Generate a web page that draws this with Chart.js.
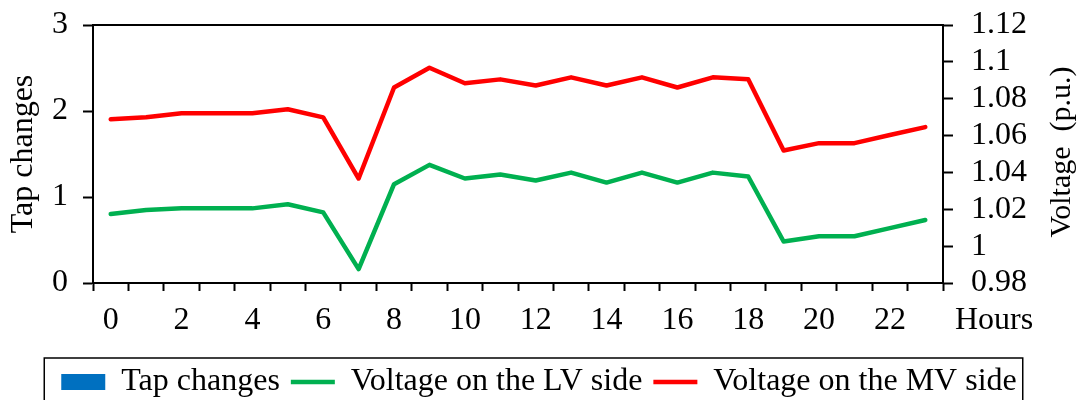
<!DOCTYPE html>
<html>
<head>
<meta charset="utf-8">
<script src="https://cdn.jsdelivr.net/npm/chart.js@4.4.1/dist/chart.umd.min.js"></script>
<style>
  html, body { margin: 0; padding: 0; background: #ffffff; }
  #wrap { width: 1078px; height: 400px; position: relative; }
</style>
</head>
<body>
<div id="wrap"><canvas id="c" width="1078" height="400"></canvas></div>
<script>
// ---- data ----
const hours = [0,1,2,3,4,5,6,7,8,9,10,11,12,13,14,15,16,17,18,19,20,21,22,23];
const tapChanges = [0,0,0,0,0,0,0,0,0,0,0,0,0,0,0,0,0,0,0,0,0,0,0,0];
const lvVoltage = [1.0174,1.0196,1.0205,1.0205,1.0205,1.0227,1.0183,0.9875,1.0336,1.0441,1.0367,1.0389,
                   1.0356,1.0399,1.0345,1.0399,1.0345,1.0399,1.0378,1.0025,1.0054,1.0054,1.0098,1.0142];
const mvVoltage = [1.0688,1.0699,1.0721,1.0721,1.0721,1.0743,1.0699,1.0367,1.0861,1.0968,1.0884,1.0905,
                   1.0872,1.0916,1.0872,1.0916,1.0861,1.0916,1.0905,1.0519,1.0559,1.0559,1.0603,1.0646];
const seriesNames = ['Tap changes', 'Voltage on the LV side', 'Voltage on the MV side'];
const leftTitle = 'Tap changes';
const rightTitle = 'Voltage  (p.u.)';
const xUnitLabel = 'Hours';

const FONT = "'Liberation Serif', 'Times New Roman', serif";
const FS = 32;
Chart.defaults.font.family = FONT;
Chart.defaults.font.size = FS;
Chart.defaults.color = '#000000';

const extras = {
  id: 'extras',
  afterDraw(chart) {
    const ctx = chart.ctx;
    const a = chart.chartArea;
    ctx.save();
    // top frame line
    ctx.strokeStyle = '#000';
    ctx.lineWidth = 2;
    ctx.beginPath();
    ctx.moveTo(a.left, a.top);
    ctx.lineTo(a.right, a.top);
    ctx.stroke();
    // "Hours" label at tick-label level
    ctx.fillStyle = '#000';
    ctx.font = FS + "px " + FONT;
    ctx.textAlign = 'center';
    ctx.textBaseline = 'middle';
    ctx.fillText(xUnitLabel, a.right + 51, a.bottom + 38);
    // right axis title (reads bottom to top)
    ctx.save();
    ctx.translate(a.right + 119, (a.top + a.bottom) / 2 - 2);
    ctx.rotate(-Math.PI / 2);
    ctx.font = "30px " + FONT;
    ctx.fillText(rightTitle, 0, 0);
    ctx.restore();
    // legend border
    const hb = chart.legend.legendHitBoxes;
    if (hb && hb.length) {
      const l = Math.min(...hb.map(h => h.left)) - 17;
      const r = Math.max(...hb.map(h => h.left + h.width)) + 6;
      const t = chart.legend.top + 3;
      ctx.lineWidth = 1.5;
      ctx.strokeStyle = '#000';
      ctx.strokeRect(l, t, r - l, 80);
    }
    ctx.restore();
  }
};

function noPad(s) { s.paddingTop = 0; s.paddingBottom = 0; }

new Chart(document.getElementById('c'), {
  type: 'bar',
  data: {
    labels: hours,
    datasets: [
      {
        type: 'bar',
        label: seriesNames[0],
        data: tapChanges,
        backgroundColor: '#0070C0',
        borderWidth: 0,
        yAxisID: 'y',
        pointStyle: 'rect'
      },
      {
        type: 'line',
        label: seriesNames[1],
        data: lvVoltage,
        borderColor: '#00B050',
        backgroundColor: '#00B050',
        borderWidth: 4.5,
        pointRadius: 0,
        pointStyle: 'line',
        tension: 0,
        borderCapStyle: 'round',
        borderJoinStyle: 'round',
        yAxisID: 'y1'
      },
      {
        type: 'line',
        label: seriesNames[2],
        data: mvVoltage,
        borderColor: '#FF0000',
        backgroundColor: '#FF0000',
        borderWidth: 4.5,
        pointRadius: 0,
        pointStyle: 'line',
        tension: 0,
        borderCapStyle: 'round',
        borderJoinStyle: 'round',
        yAxisID: 'y1'
      }
    ]
  },
  options: {
    responsive: false,
    animation: false,
    layout: { padding: { top: 25, left: 0, right: 0, bottom: -8 } },
    plugins: {
      tooltip: { enabled: false },
      legend: {
        position: 'bottom',
        align: 'center',
        labels: {
          usePointStyle: true,
          pointStyleWidth: 44,
          boxHeight: 16,
          padding: 11,
          color: '#000',
          font: { size: FS, family: FONT }
        }
      }
    },
    scales: {
      x: {
        offset: true,
        grid: { display: true, drawOnChartArea: false, drawTicks: true, tickLength: 8, tickWidth: 2, tickColor: '#000', offset: true },
        border: { display: true, color: '#000', width: 2 },
        ticks: {
          autoSkip: false,
          maxRotation: 0,
          minRotation: 0,
          padding: 10,
          color: '#000',
          font: { size: FS, family: FONT },
          callback: function(v, i) { return (hours[i] % 2 === 0) ? String(hours[i]) : ''; }
        },
        afterFit(s) { s.height = 72; }
      },
      y: {
        position: 'left',
        min: 0, max: 3,
        grid: { display: true, drawOnChartArea: false, drawTicks: true, tickLength: 10, tickWidth: 2, tickColor: '#000' },
        border: { display: true, color: '#000', width: 2 },
        ticks: { stepSize: 1, padding: 15, autoSkip: false, color: '#000', font: { size: FS, family: FONT } },
        title: { display: true, text: leftTitle, color: '#000', font: { size: FS, family: FONT }, padding: { top: 4, bottom: 0 } },
        afterFit(s) { s.width = 93; noPad(s); }
      },
      y1: {
        position: 'right',
        min: 0.98, max: 1.12,
        grid: { display: true, drawOnChartArea: false, drawTicks: true, tickLength: 10, tickWidth: 2, tickColor: '#000' },
        border: { display: true, color: '#000', width: 2 },
        ticks: {
          stepSize: 0.02, padding: 18, autoSkip: false, color: '#000', font: { size: FS, family: FONT },
          callback: function(v) { return String(Number(v.toFixed(2))); }
        },
        afterFit(s) { s.width = 135; noPad(s); }
      }
    }
  },
  plugins: [extras]
});
</script>
</body>
</html>
